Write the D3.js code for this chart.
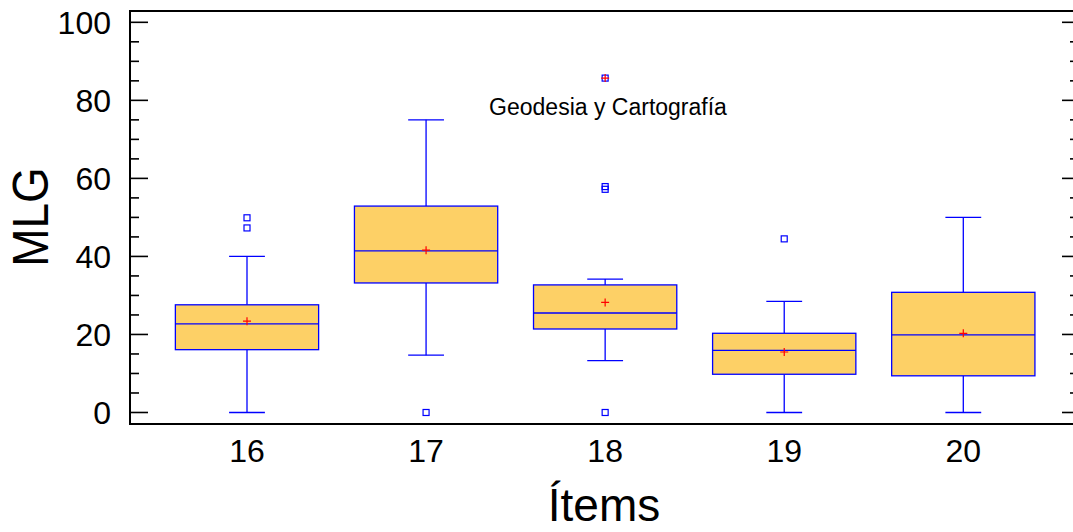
<!DOCTYPE html>
<html>
<head>
<meta charset="utf-8">
<script src="https://cdn.jsdelivr.net/npm/d3@7"></script>
<style>
  html, body { margin: 0; padding: 0; background: #fff; }
  text { font-family: "Liberation Sans", Arial, sans-serif; }
</style>
</head>
<body>
<svg id="chart" width="1073" height="532"></svg>
<script>
// ---- data ----
const items = [16, 17, 18, 19, 20];
const whiskerLow = [0, 14.7, 13.3, 0, 0];
const q1 = [16.1, 33.2, 21.4, 9.8, 9.4];
const median = [22.7, 41.4, 25.5, 15.9, 19.9];
const q3 = [27.6, 52.9, 32.7, 20.3, 30.8];
const whiskerHigh = [40, 75, 34.2, 28.5, 50];
const means = [23.4, 41.6, 28.2, 15.5, 20.3];
// outliers
const outlierItems = [16, 16, 17, 18, 18, 18, 18, 19];
const outlierValues = [49.9, 47.3, 0, 85.7, 57.9, 57.2, 0, 44.5];
const outlierFar = [false, false, false, true, false, false, false, false];
const yTicks = [0, 20, 40, 60, 80, 100];
const annotation = "Geodesia y Cartografía";
const yTitle = "MLG";
const xTitle = "Ítems";

const svg = d3.select("#chart");
const mLeft = 130, mRight = 1080, mTop = 11, mBottom = 424;

const x = d3.scaleLinear().domain([16, 20]).range([247, 963.3]);
const y = d3.scaleLinear().domain([-2.95, 102.9]).range([mBottom, mTop]);
const boxW = x(16.4) - x(16);
const capW = x(16.1) - x(16);

// frame
svg.append("rect").attr("x", mLeft).attr("y", mTop)
  .attr("width", mRight - mLeft).attr("height", mBottom - mTop)
  .attr("fill", "none").attr("stroke", "#000").attr("stroke-width", 2);

// left axis
const minor = d3.range(0, 101, 5);
const gL = svg.append("g");
gL.selectAll("line").data(minor).join("line")
  .attr("x1", mLeft).attr("x2", d => d % 20 === 0 ? mLeft + 18 : mLeft + 9)
  .attr("y1", d => y(d)).attr("y2", d => y(d))
  .attr("stroke", "#000").attr("stroke-width", 1.6);
gL.selectAll("text").data(yTicks).join("text")
  .attr("x", mLeft - 19).attr("y", d => y(d)).attr("dy", "0.36em")
  .attr("text-anchor", "end").attr("font-size", 32).text(d => d);

// right axis ticks
const gR = svg.append("g");
gR.selectAll("line").data(minor).join("line")
  .attr("x1", d => d % 20 === 0 ? 1062 : 1070).attr("x2", 1074)
  .attr("y1", d => y(d)).attr("y2", d => y(d))
  .attr("stroke", "#000").attr("stroke-width", 1.6);

// x labels
svg.append("g").selectAll("text").data(items).join("text")
  .attr("x", d => x(d)).attr("y", 462).attr("text-anchor", "middle")
  .attr("font-size", 32).text(d => d);

// titles
svg.append("text").attr("x", 604).attr("y", 521).attr("text-anchor", "middle")
  .attr("font-size", 46).text(xTitle);
svg.append("text").attr("transform", "translate(48,217) rotate(-90) scale(1,1.08)")
  .attr("text-anchor", "middle").attr("font-size", 46).text(yTitle);

// annotation
svg.append("text").attr("x", 608).attr("y", 115).attr("text-anchor", "middle")
  .attr("font-size", 23).text(annotation);

// boxes
const blue = "#0000ff";
const g = svg.append("g");
items.forEach((it, i) => {
  const cx = x(it);
  g.append("line").attr("x1", cx).attr("x2", cx).attr("y1", y(whiskerHigh[i])).attr("y2", y(q3[i]))
    .attr("stroke", blue).attr("stroke-width", 1.3);
  g.append("line").attr("x1", cx).attr("x2", cx).attr("y1", y(q1[i])).attr("y2", y(whiskerLow[i]))
    .attr("stroke", blue).attr("stroke-width", 1.3);
  [whiskerHigh[i], whiskerLow[i]].forEach(v => {
    g.append("line").attr("x1", cx - capW).attr("x2", cx + capW).attr("y1", y(v)).attr("y2", y(v))
      .attr("stroke", blue).attr("stroke-width", 1.3);
  });
  g.append("rect").attr("x", cx - boxW).attr("y", y(q3[i]))
    .attr("width", 2 * boxW).attr("height", y(q1[i]) - y(q3[i]))
    .attr("fill", "#fdd066").attr("stroke", blue).attr("stroke-width", 1.3);
  g.append("line").attr("x1", cx - boxW).attr("x2", cx + boxW).attr("y1", y(median[i])).attr("y2", y(median[i]))
    .attr("stroke", blue).attr("stroke-width", 1.3);
  const my = y(means[i]);
  g.append("path").attr("d", `M${cx - 4},${my}H${cx + 4}M${cx},${my - 4}V${my + 4}`)
    .attr("stroke", "#ff0000").attr("stroke-width", 1.2).attr("fill", "none");
});

outlierItems.forEach((it, i) => {
  const cx = x(it), cy = y(outlierValues[i]);
  g.append("rect").attr("x", cx - 3).attr("y", cy - 3).attr("width", 6).attr("height", 6)
    .attr("fill", "none").attr("stroke", blue).attr("stroke-width", 1.2);
  if (outlierFar[i]) {
    g.append("path").attr("d", `M${cx - 4},${cy}H${cx + 4}M${cx},${cy - 4}V${cy + 4}`)
      .attr("stroke", "#ff0000").attr("stroke-width", 1.2).attr("fill", "none");
  }
});
</script>
</body>
</html>
